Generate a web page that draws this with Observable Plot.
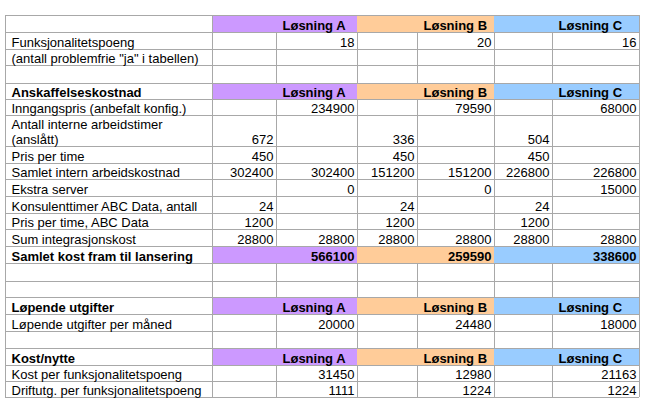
<!DOCTYPE html>
<html><head><meta charset="utf-8">
<script src="https://cdn.jsdelivr.net/npm/d3@7"></script>
<script src="https://cdn.jsdelivr.net/npm/@observablehq/plot@0.6"></script>
<style>body{margin:0;background:#fff} svg{display:block}</style>
</head><body><div id="chart"></div>
<script>
// ---------- data ----------
const solutions = ["Løsning A", "Løsning B", "Løsning C"];
const rowLabels = [
  "",
  "Funksjonalitetspoeng",
  "(antall problemfrie \"ja\" i tabellen)",
  "",
  "Anskaffelseskostnad",
  "Inngangspris (anbefalt konfig.)",
  "Antall interne arbeidstimer\n(anslått)",
  "Pris per time",
  "Samlet intern arbeidskostnad",
  "Ekstra server",
  "Konsulenttimer ABC Data, antall",
  "Pris per time, ABC Data",
  "Sum integrasjonskost",
  "Samlet kost fram til lansering",
  "",
  "",
  "Løpende utgifter",
  "Løpende utgifter per måned",
  "",
  "Kost/nytte",
  "Kost per funksjonalitetspoeng",
  "Driftutg. per funksjonalitetspoeng"
];
const detailA = [null,null,null,null,null,null,672,450,302400,null,24,1200,28800,null,null,null,null,null,null,null,null,null];
const totalA  = [null,18,null,null,null,234900,null,null,302400,0,null,null,28800,566100,null,null,null,20000,null,null,31450,1111];
const detailB = [null,null,null,null,null,null,336,450,151200,null,24,1200,28800,null,null,null,null,null,null,null,null,null];
const totalB  = [null,20,null,null,null,79590,null,null,151200,0,null,null,28800,259590,null,null,null,24480,null,null,12980,1224];
const detailC = [null,null,null,null,null,null,504,450,226800,null,24,1200,28800,null,null,null,null,null,null,null,null,null];
const totalC  = [null,16,null,null,null,68000,null,null,226800,15000,null,null,28800,338600,null,null,null,18000,null,null,21163,1224];
const headerRows = [0, 4, 16, 19];
const totalRow = 13;

// ---------- layout ----------
const colWidths = [207, 64, 81, 60, 77, 58, 87];
const rowHeights = [17,17,16,18,16,16,31,17,16,17,17,16,17,17,18,16,17,17,17,17,16,16];
const colFills = [null, "#cc99ff", "#cc99ff", "#ffcc99", "#ffcc99", "#99ccff", "#99ccff"];
const gridColor = "#a8a8a8";
const font = "'Liberation Sans', Arial, sans-serif";

const colEdges = [0]; colWidths.forEach(w => colEdges.push(colEdges[colEdges.length - 1] + w));
const rowEdges = [0]; rowHeights.forEach(h => rowEdges.push(rowEdges[rowEdges.length - 1] + h));
const W = colEdges[colEdges.length - 1], H = rowEdges[rowEdges.length - 1];
const valueCols = [null, detailA, totalA, detailB, totalB, detailC, totalC];
const coloredRows = new Set([...headerRows, totalRow]);
const isColored = (r, c) => c > 0 && coloredRows.has(r);

const cells = [], vlines = [], labelsReg = [], labelsBold = [], numsReg = [], numsBold = [];
rowLabels.forEach((lab, r) => {
  const y1 = rowEdges[r], y2 = rowEdges[r + 1];
  for (let c = 0; c < colWidths.length; c++) {
    if (isColored(r, c)) cells.push({x1: colEdges[c], x2: colEdges[c + 1], y1, y2, fill: colFills[c]});
  }
  for (let b = 0; b <= colWidths.length; b++) {
    const between = b > 0 && b < colWidths.length && isColored(r, b - 1) && isColored(r, b);
    if (!between) vlines.push({x: colEdges[b], y1, y2});
  }
  if (lab) (coloredRows.has(r) ? labelsBold : labelsReg).push({x: colEdges[0], y: y2, text: lab});
  if (headerRows.includes(r)) {
    solutions.forEach((s, i) => labelsBold.push({x: colEdges[2 + 2 * i], y: y2, text: s, pad: 5}));
  }
  for (let c = 1; c < valueCols.length; c++) {
    const v = valueCols[c][r];
    if (v != null) (r === totalRow ? numsBold : numsReg).push({x: colEdges[c + 1], y: y2, text: String(v)});
  }
});
const hlines = rowEdges.map(y => ({y, x1: 0, x2: W}));

const txt = {fontFamily: font, fontSize: 13, fill: "#000", lineAnchor: "bottom", lineHeight: 1.15, dy: -3};

const chart = Plot.plot({
  width: 657, height: 414,
  marginTop: 0, marginRight: 0, marginBottom: 0, marginLeft: 0,
  x: {type: "linear", domain: [0, W], range: [5, 5 + W], axis: null},
  y: {type: "linear", domain: [0, H], range: [15, 15 + H], axis: null},
  color: {type: "identity"},
  style: {background: "#fff", fontFamily: font},
  marks: [
    Plot.rect(cells, {x1: "x1", x2: "x2", y1: "y1", y2: "y2", fill: "fill", inset: 0}),
    Plot.ruleY(hlines, {y: "y", x1: "x1", x2: "x2", stroke: gridColor, strokeWidth: 1}),
    Plot.ruleX(vlines, {x: "x", y1: "y1", y2: "y2", stroke: gridColor, strokeWidth: 1}),
    Plot.text(labelsReg, {x: "x", y: "y", text: "text", textAnchor: "start", ...txt, dx: 6}),
    Plot.text(labelsBold, {x: "x", y: "y", text: "text", textAnchor: "start", fontWeight: "bold", ...txt, dx: 6}),
    Plot.text(numsReg, {x: "x", y: "y", text: "text", textAnchor: "end", ...txt, dx: -3}),
    Plot.text(numsBold, {x: "x", y: "y", text: "text", textAnchor: "end", fontWeight: "bold", ...txt, dx: -3})
  ]
});
document.getElementById("chart").appendChild(chart);
</script>
</body></html>
